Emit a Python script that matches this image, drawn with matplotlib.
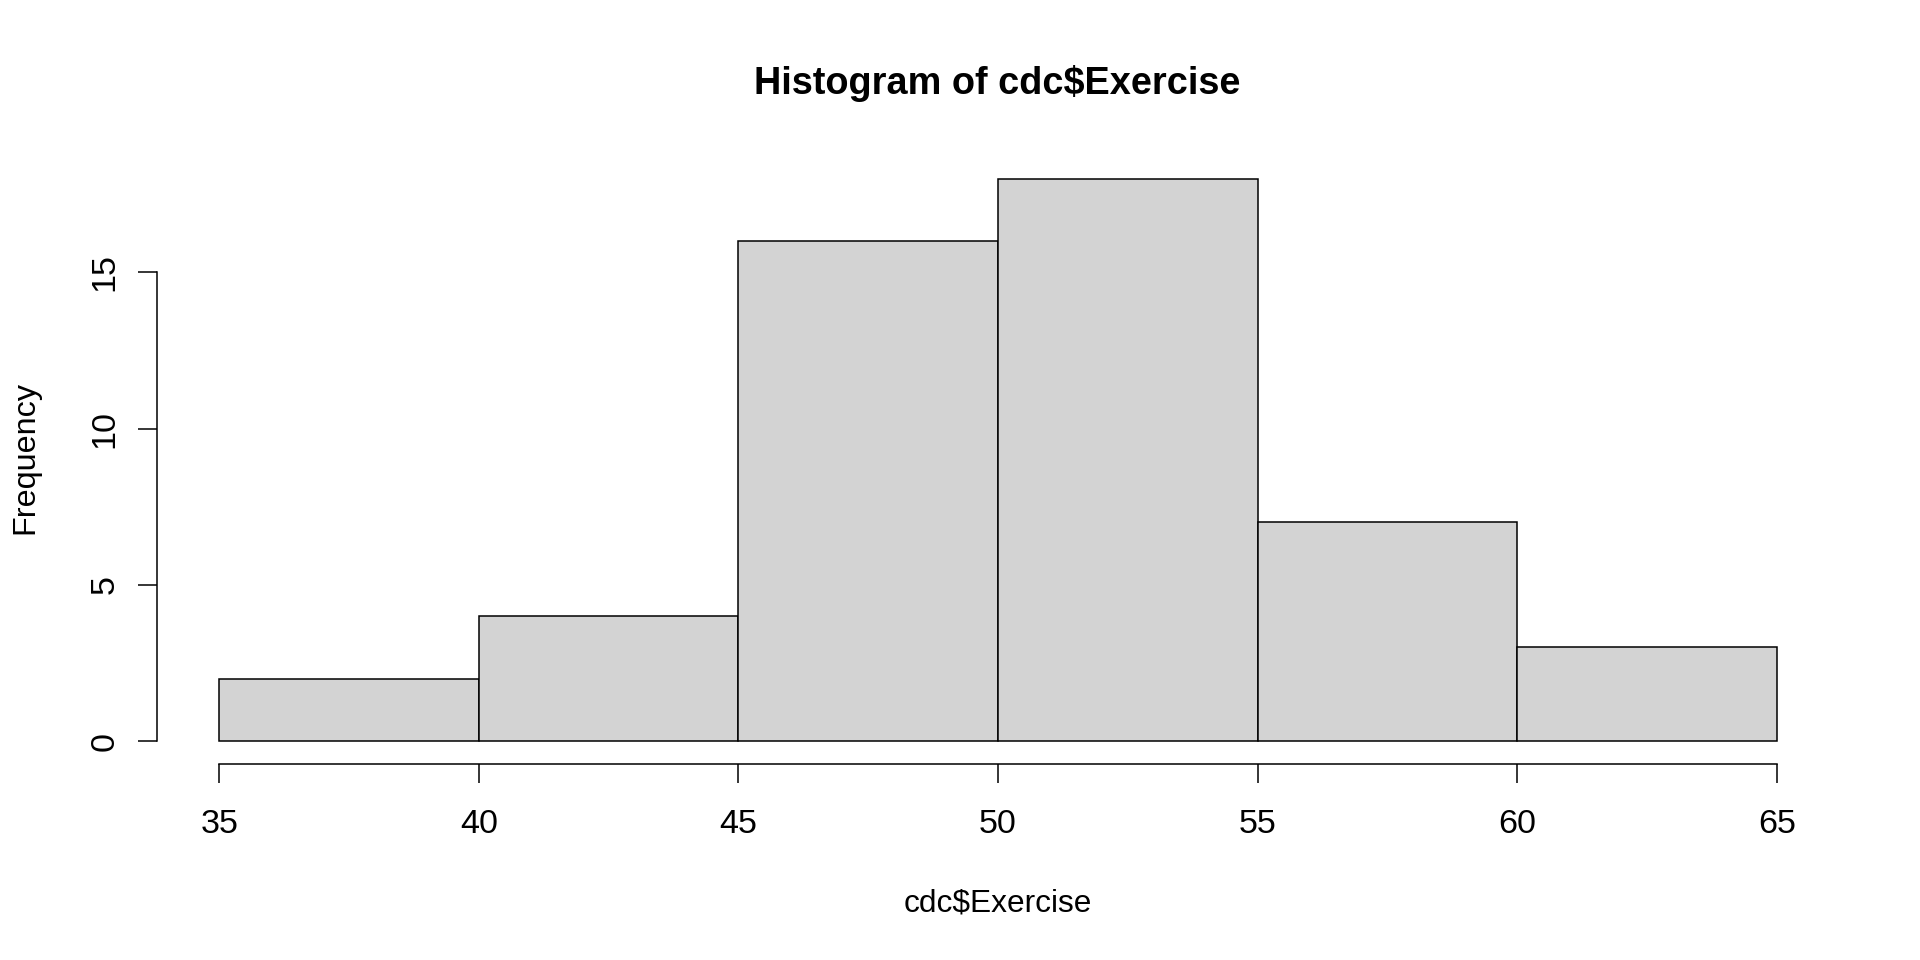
import matplotlib
matplotlib.use("Agg")
import matplotlib.pyplot as plt

# histogram bins
bin_edges = [35, 40, 45, 50, 55, 60, 65]
counts = [2, 4, 16, 18, 7, 3]
x_ticks = [35, 40, 45, 50, 55, 60, 65]
y_ticks = [0, 5, 10, 15]

plt.rcParams['font.family'] = ['Liberation Sans', 'DejaVu Sans']

fig = plt.figure(figsize=(19.2, 9.6), dpi=100)
ax = fig.add_axes([157 / 1920, 1 - 763.6 / 960, (1839 - 157) / 1920, (763.6 - 156.2) / 960])

widths = [bin_edges[i + 1] - bin_edges[i] for i in range(len(counts))]
ax.bar(bin_edges[:-1], counts, width=widths, align='edge',
       color='#D3D3D3', edgecolor='black', linewidth=1.1)

# R style: 4% padding, axes drawn only across tick range
ax.set_xlim(35 - 0.04 * 30, 65 + 0.04 * 30)
ax.set_ylim(0 - 0.04 * 18, 18 + 0.04 * 18)

for side in ['top', 'right']:
    ax.spines[side].set_visible(False)
ax.spines['left'].set_bounds(0, 15)
ax.spines['bottom'].set_bounds(35, 65)
ax.spines['left'].set_linewidth(1.1)
ax.spines['bottom'].set_linewidth(1.1)

ax.set_xticks(x_ticks)
ax.set_yticks(y_ticks)
ax.tick_params(axis='both', direction='out', length=13.8, width=1.1, labelsize=24.6)
ax.tick_params(axis='x', pad=19)
ax.tick_params(axis='y', pad=12.7)
for lab in ax.get_yticklabels():
    lab.set_rotation(90)
    lab.set_verticalalignment('center')

fig.text(997.5 / 1920, 1 - 83.5 / 960, 'Histogram of cdc$Exercise', ha='center', va='center',
         fontsize=27.3, fontweight='bold')
fig.text(998 / 1920, 1 - 904 / 960, 'cdc$Exercise', ha='center', va='center', fontsize=22.8)
fig.text(25 / 1920, 1 - 457 / 960, 'Frequency', ha='center', va='center', rotation=90, fontsize=23.3)

fig.savefig('out.png', dpi=100)
